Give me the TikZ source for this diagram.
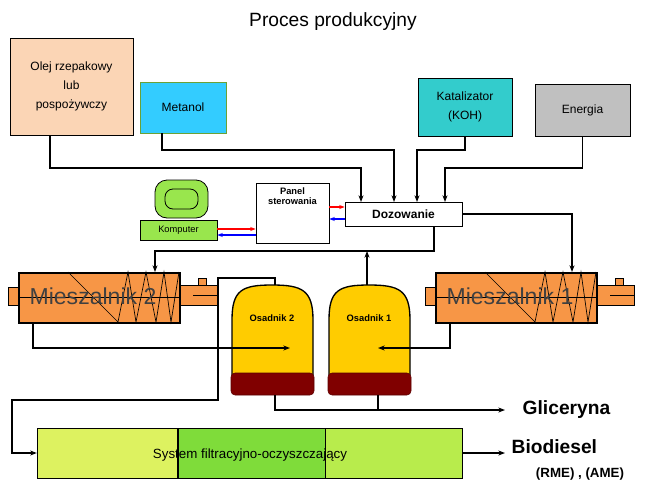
\documentclass[tikz,border=0pt]{standalone}
\usepackage{fontspec}
\setmainfont{Liberation Sans}
\usetikzlibrary{arrows.meta, positioning}
\definecolor{Peach}{HTML}{FBD5B5}
\definecolor{Sky}{HTML}{33CCFF}
\definecolor{Teal}{HTML}{33CCCC}
\definecolor{Grey}{HTML}{C0C0C0}
\definecolor{Mix}{HTML}{F79646}
\definecolor{Tank}{HTML}{FFCC00}
\definecolor{Base}{HTML}{800000}
\definecolor{PcGreen}{HTML}{99E64D}
\definecolor{FiltA}{HTML}{DDF260}
\definecolor{FiltB}{HTML}{7FDC3A}
\definecolor{FiltC}{HTML}{B8EC4C}
\tikzset{
  src/.style={draw=black, line width=0.6pt, font=\small, align=center, inner sep=0pt},
  pipe/.style={line width=0.9pt, color=black},
  thick pipe/.style={line width=1.8pt, color=black},
  arr/.style={-{Stealth[length=5pt]}},
  sig/.style={-{Stealth[length=4pt]}, line width=0.8pt},
  mixer/.style={draw=black, line width=1.5pt, fill=Mix},
  label/.style={font=\bfseries},
}
\begin{document}
\begin{tikzpicture}[x=0.75pt, y=-0.75pt]
  \useasboundingbox (0,0) rectangle (667,500);
  \node (title) at (333,22) {\Large Proces produkcyjny};

  % sources
  \node[src, fill=Peach, minimum width=123pt*0.75, minimum height=97pt*0.75] (olej) at (71.5,86.5) {Olej rzepakowy\\[3pt]lub\\[3pt]pospożywczy};
  \node[src, fill=Sky, draw=PcGreen!70!black, minimum width=86pt*0.75, minimum height=51pt*0.75] (metanol) at (183,107.5) {Metanol};
  \node[src, fill=Teal, minimum width=94pt*0.75, minimum height=58pt*0.75] (kat) at (465,107) {Katalizator\\[3pt](KOH)};
  \node[src, fill=Grey, minimum width=95pt*0.75, minimum height=52pt*0.75] (energia) at (582.5,110) {Energia};

  % control
  \node[src, fill=white, minimum width=117pt*0.75, minimum height=24pt*0.75, font=\small\bfseries] (doz) at (403.5,214) {Dozowanie};
  \node[src, fill=white, minimum width=73pt*0.75, minimum height=60pt*0.75, anchor=north, font=\scriptsize\bfseries, text depth=26pt] (panel) at (292.5,183) {Panel\\sterowania};
  \node[src, fill=PcGreen, minimum width=77pt*0.75, minimum height=20pt*0.75, font=\scriptsize] (komp) at (178.5,230) {Komputer};
  \draw[fill=PcGreen, line width=0.6pt, rounded corners=9pt] (155,218) rectangle (208,180);
  \draw[line width=0.6pt, rounded corners=6pt] (165,189) rectangle (198,209);

  % feed lines
  \coordinate (d1) at (361,202); \coordinate (d2) at (394,202);
  \coordinate (d3) at (417,202); \coordinate (d4) at (445,202);
  \draw[pipe, arr] (olej.south -| 50,0) |- (361,168) -- (d1);
  \draw[pipe, arr] (metanol.south -| 162,0) |- (394,150) -- (d2);
  \draw[pipe, arr] (kat.south) |- (417,150) -- (d3);
  \draw[pipe, arr] (energia.south) |- (445,168) -- (d4);

  % signals
  \draw[sig, red] (komp.east |- 0,229) -- (panel.west |- 0,229);
  \draw[sig, blue] (panel.west |- 0,235) -- (komp.east |- 0,235);
  \draw[sig, red] (panel.east |- 0,207) -- (doz.west |- 0,207);
  \draw[sig, blue] (doz.west |- 0,219) -- (panel.east |- 0,219);

  % mixers
  \foreach \x/\n/\t in {18/mix2/Mieszalnik 2, 435/mix1/Mieszalnik 1}{
    \draw[line width=0.6pt, fill=Mix] (\x-10,287) rectangle (\x,305);
    \draw[line width=0.6pt, fill=Mix] (\x+161,285) rectangle (\x+199,305);
    \draw[line width=0.6pt] (\x+175,295) -- (\x+199,295);
    \draw[line width=0.6pt, fill=Mix] (\x+180,285) rectangle (\x+188,278);
    \node[mixer, minimum width=161pt*0.75, minimum height=50pt*0.75, inner sep=0pt, anchor=north west] (\n) at (\x,272) {};
    \draw[line width=0.5pt] (\x,297) -- (\x+161,297);
    \draw[line width=0.5pt] (\x+50,272) -- (\x+100,322) -- (\x+110,272) -- (\x+118,322) -- (\x+128,272) -- (\x+138,322) -- (\x+146,272) -- (\x+153,322) -- (\x+161,272);
    \node[font=\LARGE, text=black!75] at (\x+75,296) {\t};
  }

  % settlers
  \foreach \x/\n/\t in {232/os2/Osadnik 2, 329/os1/Osadnik 1}{
    \draw[line width=1pt, fill=Tank] (\x,375) -- (\x,320) .. controls (\x,290) and (\x+10,285) .. (\x+40,285) .. controls (\x+70,285) and (\x+81,290) .. (\x+81,320) -- (\x+81,375) -- cycle;
    \node[font=\scriptsize\bfseries] (\n) at (\x+40,318) {\t};
    \draw[fill=Base, draw=Base!70!black, rounded corners=3pt] (\x-1,373) rectangle (\x+82,395);
  }

  % process lines
  \coordinate (jn) at (367,251);
  \draw[thick pipe] (doz.south -| 434,0) |- (jn);
  \draw[thick pipe, arr] (jn) -| (mix2.north -| 155,0);
  \draw[thick pipe, arr] (367,285) -- (jn);
  \draw[thick pipe, arr] (doz.east) -| (mix1.north -| 572,0);
  \draw[thick pipe, arr] (mix2.south -| 33,0) |- (290,348);
  \draw[thick pipe, arr] (mix1.south -| 450,0) |- (378,348);

  % products
  \node[src, fill=FiltB, minimum width=147pt*0.75, minimum height=50pt*0.75] (filtB) at (251.5,453) {};
  \node[src, fill=FiltA, minimum width=140pt*0.75, minimum height=50pt*0.75, anchor=east] (filtA) at (filtB.west) {};
  \node[src, fill=FiltC, minimum width=137pt*0.75, minimum height=50pt*0.75, anchor=west] (filtC) at (filtB.east) {};
  \node[font=\normalsize] at (250,455) {System filtracyjno-oczyszczający};
  \coordinate (o2top) at (275,285);
  \draw[line width=1.4pt, arr] (o2top) -- (275,278) -- (218,278) -- (218,400) -- (12,400) -- (12,453) -- (filtA.west);

  \node[label, font=\Large\bfseries, anchor=west] (gli) at (518,410) {Gliceryna};
  \node[label, font=\Large\bfseries, anchor=west] (bio) at (507,447) {Biodiesel};
  \node[label, font=\normalsize\bfseries] (rme) at (580,474) {(RME) , (AME)};
  \coordinate (g1) at (275,395); \coordinate (g2) at (378,395);
  \coordinate (gend) at (505,410); \coordinate (bend) at (505,453);
  \draw[pipe, line width=1.2pt, arr] (g1) |- (gend);
  \draw[pipe, line width=1.2pt] (g2) -- (378,410);
  \draw[pipe, line width=1.2pt, arr] (filtC.east) -- (bend);
\end{tikzpicture}
\end{document}
